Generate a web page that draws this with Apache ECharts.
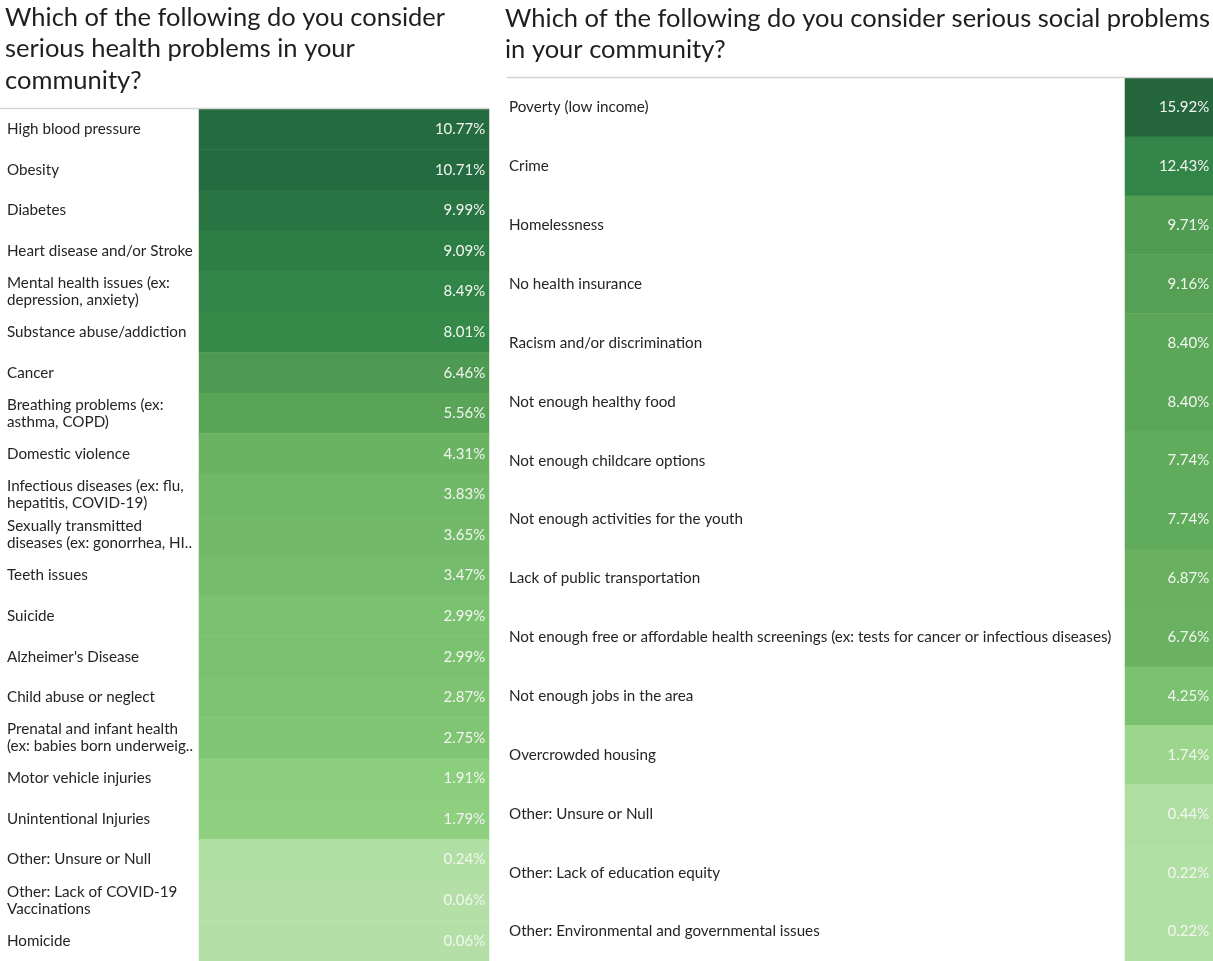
<!DOCTYPE html>
<html>
<head>
<meta charset="utf-8">
<title>Community health and social problems</title>
<script src="https://cdn.jsdelivr.net/npm/echarts@6/dist/echarts.min.js"></script>
<style>
  html, body { margin: 0; padding: 0; background: #ffffff; }
  #chart { width: 1213px; height: 961px; }
</style>
</head>
<body>
<div id="chart"></div>
<script>
// Serious health problems (share of responses, %)
const healthProblems = [
  'High blood pressure',
  'Obesity',
  'Diabetes',
  'Heart disease and/or Stroke',
  'Mental health issues (ex:\ndepression, anxiety)',
  'Substance abuse/addiction',
  'Cancer',
  'Breathing problems (ex:\nasthma, COPD)',
  'Domestic violence',
  'Infectious diseases (ex: flu,\nhepatitis, COVID-19)',
  'Sexually transmitted\ndiseases (ex: gonorrhea, HI..',
  'Teeth issues',
  'Suicide',
  "Alzheimer's Disease",
  'Child abuse or neglect',
  'Prenatal and infant health\n(ex: babies born underweig..',
  'Motor vehicle injuries',
  'Unintentional Injuries',
  'Other: Unsure or Null',
  'Other: Lack of COVID-19\nVaccinations',
  'Homicide'
];
const healthShares = [10.77, 10.71, 9.99, 9.09, 8.49, 8.01, 6.46, 5.56, 4.31, 3.83, 3.65, 3.47, 2.99, 2.99, 2.87, 2.75, 1.91, 1.79, 0.24, 0.06, 0.06];

// Serious social problems (share of responses, %)
const socialProblems = [
  'Poverty (low income)',
  'Crime',
  'Homelessness',
  'No health insurance',
  'Racism and/or discrimination',
  'Not enough healthy food',
  'Not enough childcare options',
  'Not enough activities for the youth',
  'Lack of public transportation',
  'Not enough free or affordable health screenings (ex: tests for cancer or infectious diseases)',
  'Not enough jobs in the area',
  'Overcrowded housing',
  'Other: Unsure or Null',
  'Other: Lack of education equity',
  'Other: Environmental and governmental issues'
];
const socialShares = [15.92, 12.43, 9.71, 9.16, 8.40, 8.40, 7.74, 7.74, 6.87, 6.76, 4.25, 1.74, 0.44, 0.22, 0.22];

const healthTitle = 'Which of the following do you consider\nserious health problems in your\ncommunity?';
const socialTitle = 'Which of the following do you consider serious social problems\nin your community?';

const FONT = 'Lato, "Open Sans", sans-serif';

const chart = echarts.init(document.getElementById('chart'), null, { renderer: 'canvas' });

function cellSeries(idx, values) {
  return {
    type: 'heatmap',
    xAxisIndex: idx,
    yAxisIndex: idx,
    data: values.map((v, i) => [0, i, v]),
    label: {
      show: true,
      position: 'insideRight',
      distance: 4,
      color: '#f2f5f0',
      fontFamily: FONT,
      fontSize: 15,
      formatter: p => p.value[2].toFixed(2) + '%'
    },
    itemStyle: { borderWidth: 0 },
    emphasis: { disabled: true }
  };
}

function categoryAxis(idx, names, margin) {
  return {
    type: 'category',
    gridIndex: idx,
    data: names,
    inverse: true,
    axisTick: { show: false },
    axisLine: { show: true, lineStyle: { color: '#d6ddd4', width: 1 } },
    splitLine: { show: false },
    axisLabel: {
      align: 'left',
      margin: margin,
      color: '#242424',
      fontFamily: FONT,
      fontSize: 15.2,
      lineHeight: 17
    }
  };
}

const titleStyle = { fontFamily: FONT, fontWeight: 'normal', fontSize: 25.5, color: '#1e1e1e', lineHeight: 31.5 };

chart.setOption({
  animation: false,
  backgroundColor: '#ffffff',
  title: [
    { text: healthTitle, left: 5, top: 2, padding: 0, textStyle: titleStyle },
    { text: socialTitle, left: 505, top: 3, padding: 0, textStyle: titleStyle }
  ],
  grid: [
    { left: 199, top: 109, width: 290, height: 852 },
    { left: 1125, top: 78, width: 90, height: 885 }
  ],
  xAxis: [
    { type: 'category', gridIndex: 0, data: ['share'], show: false },
    { type: 'category', gridIndex: 1, data: ['share'], show: false }
  ],
  yAxis: [
    categoryAxis(0, healthProblems, 192),
    categoryAxis(1, socialProblems, 616)
  ],
  visualMap: [
    {
      type: 'continuous',
      show: false,
      seriesIndex: 0,
      dimension: 2,
      min: 0, max: 11,
      inRange: {
        color: ['#b5e1a8', '#a0d893', '#89cd7b', '#7bc270', '#6db665', '#62ab5b',
                '#549f55', '#46944e', '#358a4a', '#2e7f45', '#287443', '#24683f']
      }
    },
    {
      type: 'continuous',
      show: false,
      seriesIndex: 1,
      dimension: 2,
      min: 0, max: 16,
      inRange: {
        color: ['#b4e1a7', '#97d488', '#7dc371', '#70b766', '#5fa95a', '#4d9a52',
                '#34884a', '#2b7743', '#25653d']
      }
    }
  ],
  graphic: [
    {
      type: 'line',
      shape: { x1: 0, y1: 108.5, x2: 489, y2: 108.5 },
      style: { stroke: '#d4d4d4', lineWidth: 1.5 },
      z: 100
    },
    {
      type: 'line',
      shape: { x1: 507, y1: 77.5, x2: 1213, y2: 77.5 },
      style: { stroke: '#d4d4d4', lineWidth: 1.5 },
      z: 100
    }
  ],
  series: [
    cellSeries(0, healthShares),
    cellSeries(1, socialShares)
  ]
});
</script>
</body>
</html>
